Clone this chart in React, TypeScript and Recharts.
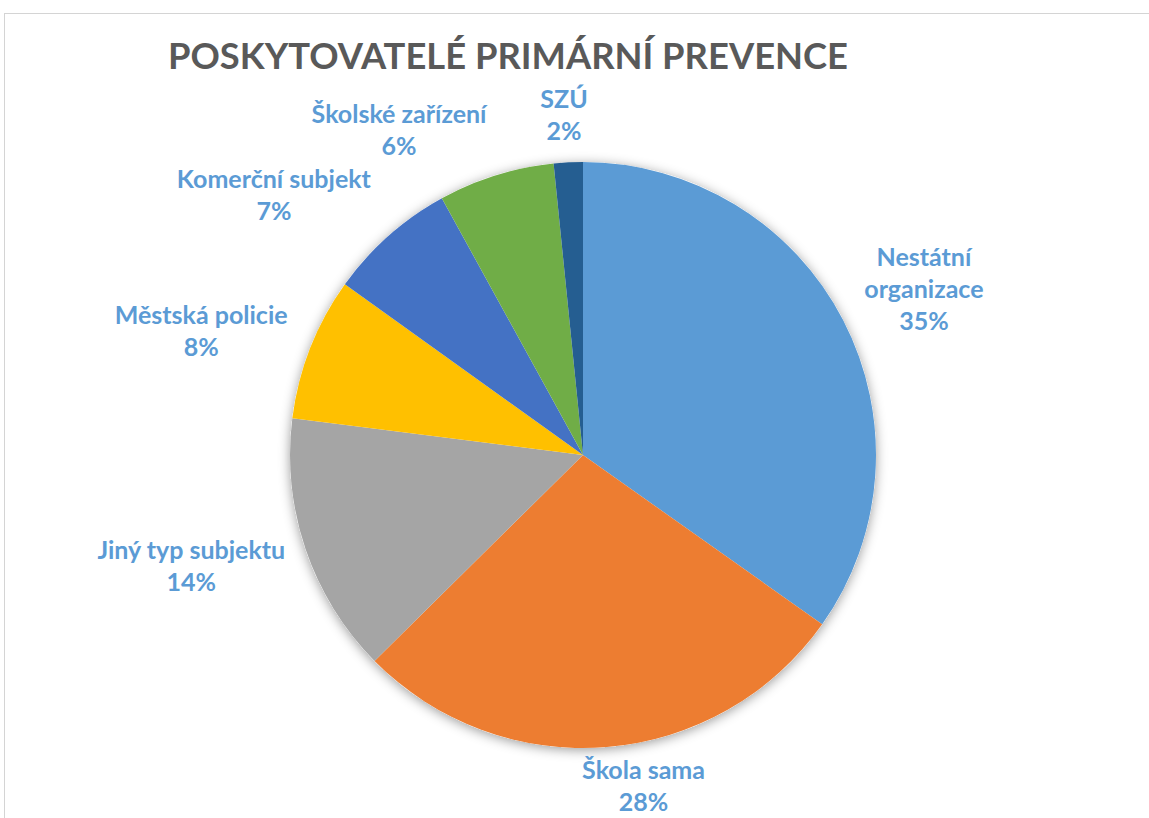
import { PieChart, Pie, Cell } from "recharts";

// slice shares (labels show them rounded)
const values = [34.8, 27.8, 14.4, 7.9, 7.1, 6.4, 1.6];
const names = [
  "Nestátní organizace",
  "Škola sama",
  "Jiný typ subjektu",
  "Městská policie",
  "Komerční subjekt",
  "Školské zařízení",
  "SZÚ",
];
const colors = ["#5B9BD5", "#ED7D31", "#A5A5A5", "#FFC000", "#4472C4", "#70AD47", "#255E91"];

const W = 1149;
const H = 818;
const CX = 583;
const CY = 455;
const R = 293;
const LABEL = "#5B9BD5";
const FONT = "Lato, 'Open Sans', sans-serif";
const LABEL_SIZE = 25;
const LH = 32;
const GAP = 20;
// Excel moved a few labels aside to avoid each other
const LABEL_NUDGE: [number, number][] = [
  [10, 1], [30, -12], [-6, 1], [-10, 3], [-37, -1], [-65, 5], [-2, 6],
];

const sliceData = names.map((name, i) => ({ name, value: values[i] }));

let ctx: CanvasRenderingContext2D | null = null;
function measure(text: string) {
  if (!ctx) ctx = document.createElement("canvas").getContext("2d");
  if (!ctx) return text.length * LABEL_SIZE * 0.5;
  ctx.font = `bold ${LABEL_SIZE}px Lato`;
  return ctx.measureText(text).width;
}

function wrap(name: string) {
  if (name.length <= 18) return [name];
  const cut = name.indexOf(" ");
  return [name.slice(0, cut), name.slice(cut + 1)];
}

function renderLabel(props: any) {
  const { cx, cy, midAngle, outerRadius, index, percent } = props;
  const rad = (-midAngle * Math.PI) / 180;
  const ux = Math.cos(rad);
  const uy = Math.sin(rad);
  const lines = [...wrap(names[index]), `${Math.round(percent * 100)}%`];
  const w = Math.max(...lines.map(measure));
  const h = lines.length * LH;
  const [nx, ny] = LABEL_NUDGE[index];
  const x = cx + (outerRadius + GAP) * ux + (w / 2) * ux + nx;
  const y = cy + (outerRadius + GAP) * uy + (h / 2) * uy + ny;
  const top = y - h / 2;
  return (
    <text
      key={`lbl-${index}`}
      textAnchor="middle"
      fill={LABEL}
      fontFamily={FONT}
      fontWeight="bold"
      fontSize={LABEL_SIZE}
    >
      {lines.map((l, i) => (
        <tspan key={i} x={x} y={top + LH * i + 24}>
          {l}
        </tspan>
      ))}
    </text>
  );
}

export default function App() {
  return (
    <div
      style={{
        position: "fixed",
        left: 0,
        top: 0,
        width: W,
        height: H,
        overflow: "hidden",
        background: "#fff",
      }}
    >
      <div
        style={{
          position: "absolute",
          left: 4,
          top: 13,
          width: 1300,
          height: 1000,
          border: "1px solid #d4d4d4",
        }}
      />
      <svg width={W} height={100} style={{ position: "absolute", left: 0, top: 0 }}>
        <text
          x={168}
          y={69}
          textLength={680}
          lengthAdjust="spacingAndGlyphs"
          fill="#595959"
          fontFamily={FONT}
          fontWeight="bold"
          fontSize={37}
        >
          POSKYTOVATELÉ PRIMÁRNÍ PREVENCE
        </text>
      </svg>
      <div style={{ position: "absolute", left: 0, top: 0 }}>
        <PieChart width={W} height={H} margin={{ top: 0, right: 0, bottom: 0, left: 0 }}>
          <defs>
            <filter id="pieShadow" x="-20%" y="-20%" width="140%" height="140%">
              <feDropShadow dx="0" dy="2" stdDeviation="6" floodColor="#000" floodOpacity="0.4" />
            </filter>
          </defs>
          <Pie
            data={[{ name: "shadow", value: 1 }]}
            dataKey="value"
            cx={CX}
            cy={CY}
            outerRadius={R}
            startAngle={90}
            endAngle={-270}
            fill="#fff"
            stroke="none"
            style={{ filter: "url(#pieShadow)" }}
            isAnimationActive={false}
          />
          <Pie
            data={sliceData}
            dataKey="value"
            cx={CX}
            cy={CY}
            outerRadius={R}
            startAngle={90}
            endAngle={-270}
            stroke="none"
            label={renderLabel}
            labelLine={false}
            isAnimationActive={false}
          >
            {sliceData.map((d, i) => (
              <Cell key={d.name} fill={colors[i]} />
            ))}
          </Pie>
        </PieChart>
      </div>
    </div>
  );
}
